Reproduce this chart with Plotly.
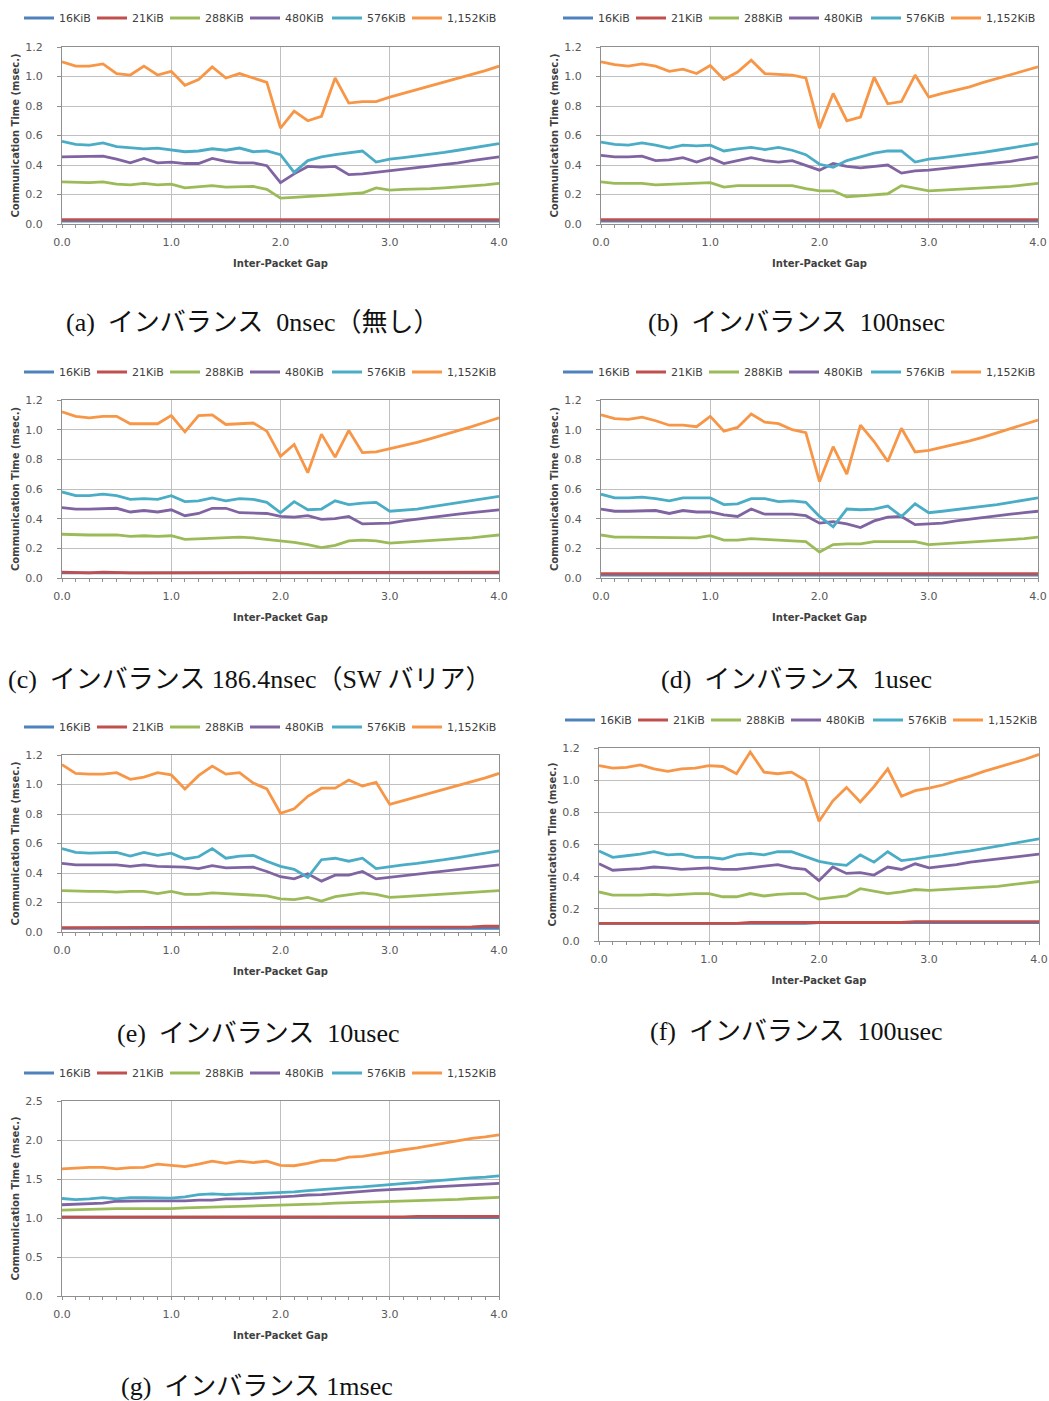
import plotly.graph_objects as go

# ---------------- data ----------------
IPG = [0.0, 0.125, 0.25, 0.375, 0.5, 0.625, 0.75, 0.875, 1.0, 1.125, 1.25, 1.375, 1.5, 1.625, 1.75, 1.875,
       2.0, 2.125, 2.25, 2.375, 2.5, 2.625, 2.75, 2.875, 3.0, 3.125, 3.25, 3.375, 3.5, 3.625, 3.75, 3.875, 4.0]

SERIES = ["16KiB", "21KiB", "288KiB", "480KiB", "576KiB", "1,152KiB"]
COLORS = ["#4F81BD", "#C0504D", "#9BBB59", "#8064A2", "#4BACC6", "#F79646"]

# (a) 0nsec
A16 = [0.020,0.020,0.020,0.020,0.020,0.020,0.020,0.020,0.020,0.020,0.020,0.020,0.020,0.020,0.020,0.020,0.020,0.020,0.020,0.020,0.020,0.020,0.020,0.020,0.020,0.020,0.020,0.020,0.020,0.020,0.020,0.020,0.020]
A21 = [0.030,0.030,0.030,0.030,0.025,0.030,0.025,0.025,0.025,0.025,0.025,0.025,0.025,0.025,0.025,0.025,0.025,0.025,0.025,0.025,0.025,0.030,0.030,0.030,0.030,0.030,0.030,0.030,0.030,0.030,0.030,0.030,0.030]
A288 = [0.285,0.280,0.280,0.285,0.270,0.265,0.275,0.265,0.270,0.245,0.250,0.260,0.250,0.250,0.255,0.235,0.175,0.180,0.185,0.190,0.195,0.200,0.210,0.245,0.230,0.235,0.235,0.240,0.245,0.250,0.255,0.265,0.275]
A480 = [0.455,0.455,0.455,0.460,0.440,0.415,0.445,0.415,0.420,0.410,0.410,0.445,0.425,0.415,0.415,0.395,0.280,0.340,0.390,0.385,0.390,0.335,0.340,0.350,0.365,0.375,0.385,0.395,0.405,0.415,0.430,0.440,0.455]
A576 = [0.560,0.540,0.535,0.550,0.525,0.515,0.510,0.515,0.500,0.490,0.495,0.510,0.500,0.515,0.490,0.495,0.470,0.350,0.430,0.455,0.470,0.480,0.495,0.420,0.440,0.450,0.460,0.470,0.485,0.500,0.515,0.530,0.545]
A1152 = [1.100,1.070,1.070,1.085,1.020,1.010,1.070,1.010,1.035,0.940,0.980,1.065,0.990,1.020,0.990,0.960,0.650,0.765,0.700,0.730,0.990,0.820,0.830,0.830,0.860,0.885,0.910,0.935,0.960,0.985,1.010,1.040,1.070]

# (b) 100nsec
B16 = [0.020,0.020,0.020,0.020,0.020,0.020,0.020,0.020,0.020,0.020,0.020,0.020,0.020,0.020,0.020,0.020,0.020,0.020,0.020,0.020,0.020,0.020,0.020,0.020,0.020,0.020,0.020,0.020,0.020,0.020,0.020,0.020,0.020]
B21 = [0.030,0.030,0.030,0.030,0.030,0.030,0.025,0.025,0.030,0.025,0.025,0.030,0.025,0.025,0.025,0.025,0.025,0.025,0.025,0.030,0.025,0.030,0.030,0.030,0.030,0.030,0.030,0.030,0.030,0.030,0.030,0.030,0.030]
B288 = [0.285,0.275,0.275,0.275,0.265,0.270,0.270,0.275,0.280,0.250,0.260,0.260,0.260,0.265,0.260,0.240,0.225,0.225,0.185,0.190,0.195,0.205,0.260,0.245,0.225,0.230,0.235,0.240,0.245,0.250,0.255,0.265,0.275]
B480 = [0.465,0.455,0.455,0.460,0.430,0.435,0.450,0.420,0.450,0.410,0.430,0.450,0.430,0.420,0.430,0.400,0.365,0.410,0.390,0.380,0.390,0.400,0.345,0.360,0.365,0.375,0.385,0.395,0.405,0.415,0.425,0.440,0.455]
B576 = [0.555,0.540,0.535,0.550,0.535,0.515,0.535,0.530,0.535,0.495,0.510,0.520,0.505,0.520,0.500,0.470,0.405,0.385,0.430,0.455,0.480,0.495,0.495,0.420,0.440,0.450,0.460,0.470,0.485,0.500,0.515,0.530,0.545]
B1152 = [1.100,1.080,1.070,1.085,1.070,1.035,1.050,1.020,1.075,0.980,1.030,1.110,1.020,1.015,1.010,0.990,0.650,0.885,0.700,0.725,0.995,0.815,0.830,1.010,0.860,0.885,0.905,0.930,0.960,0.985,1.010,1.040,1.065]

# (c) 186.4nsec
C16 = [0.035,0.035,0.035,0.035,0.035,0.035,0.035,0.035,0.035,0.035,0.035,0.035,0.035,0.035,0.035,0.035,0.035,0.035,0.035,0.035,0.035,0.035,0.035,0.035,0.035,0.035,0.035,0.035,0.035,0.035,0.035,0.035,0.035]
C21 = [0.040,0.035,0.035,0.040,0.035,0.035,0.035,0.035,0.035,0.035,0.040,0.040,0.035,0.035,0.035,0.035,0.035,0.035,0.035,0.035,0.035,0.035,0.040,0.040,0.040,0.040,0.040,0.040,0.040,0.040,0.040,0.040,0.040]
C288 = [0.295,0.290,0.290,0.290,0.290,0.280,0.285,0.280,0.285,0.260,0.265,0.270,0.275,0.275,0.270,0.260,0.245,0.240,0.225,0.205,0.220,0.250,0.255,0.250,0.235,0.240,0.245,0.250,0.255,0.265,0.270,0.280,0.290]
C480 = [0.475,0.465,0.465,0.470,0.470,0.445,0.455,0.445,0.460,0.420,0.435,0.470,0.470,0.440,0.435,0.435,0.415,0.410,0.420,0.395,0.400,0.415,0.365,0.370,0.370,0.385,0.395,0.405,0.420,0.430,0.440,0.450,0.460]
C576 = [0.580,0.555,0.555,0.565,0.555,0.530,0.535,0.530,0.555,0.515,0.520,0.540,0.520,0.535,0.530,0.510,0.440,0.515,0.460,0.465,0.520,0.495,0.505,0.510,0.450,0.455,0.465,0.480,0.495,0.505,0.520,0.535,0.550]
C1152 = [1.120,1.090,1.080,1.090,1.090,1.040,1.040,1.040,1.095,0.985,1.095,1.100,1.035,1.040,1.045,0.990,0.820,0.900,0.710,0.970,0.815,0.995,0.845,0.850,0.870,0.890,0.915,0.940,0.965,0.990,1.020,1.050,1.080]

# (d) 1usec
D16 = [0.020,0.020,0.020,0.020,0.020,0.020,0.020,0.020,0.020,0.020,0.020,0.020,0.020,0.020,0.020,0.020,0.020,0.020,0.020,0.020,0.020,0.020,0.020,0.020,0.020,0.020,0.020,0.020,0.020,0.020,0.020,0.020,0.020]
D21 = [0.030,0.030,0.030,0.030,0.030,0.025,0.030,0.030,0.030,0.030,0.030,0.030,0.025,0.030,0.030,0.025,0.030,0.025,0.030,0.030,0.030,0.030,0.030,0.030,0.030,0.030,0.030,0.030,0.030,0.030,0.030,0.030,0.030]
D288 = [0.290,0.275,0.275,0.275,0.275,0.270,0.275,0.270,0.285,0.255,0.255,0.265,0.260,0.255,0.255,0.245,0.175,0.225,0.230,0.230,0.245,0.245,0.245,0.245,0.225,0.230,0.235,0.240,0.245,0.255,0.260,0.265,0.275]
D480 = [0.465,0.450,0.450,0.455,0.455,0.435,0.455,0.445,0.445,0.425,0.415,0.465,0.430,0.430,0.430,0.420,0.370,0.380,0.365,0.340,0.385,0.410,0.415,0.360,0.365,0.370,0.385,0.395,0.405,0.415,0.430,0.440,0.450]
D576 = [0.565,0.540,0.540,0.545,0.535,0.520,0.540,0.540,0.540,0.495,0.500,0.535,0.535,0.515,0.520,0.510,0.415,0.345,0.465,0.460,0.465,0.485,0.415,0.500,0.440,0.450,0.460,0.470,0.480,0.495,0.510,0.525,0.540]
D1152 = [1.100,1.075,1.070,1.085,1.060,1.030,1.030,1.020,1.090,0.990,1.015,1.105,1.050,1.040,1.000,0.980,0.650,0.885,0.700,1.030,0.920,0.785,1.010,0.850,0.860,0.880,0.900,0.925,0.950,0.980,1.010,1.035,1.065]

# (e) 10usec
E16 = [0.025,0.025,0.025,0.025,0.025,0.025,0.025,0.025,0.025,0.025,0.025,0.025,0.025,0.025,0.025,0.025,0.025,0.025,0.025,0.025,0.025,0.025,0.025,0.025,0.025,0.025,0.025,0.025,0.025,0.025,0.025,0.025,0.025]
E21 = [0.030,0.030,0.030,0.030,0.030,0.030,0.030,0.030,0.030,0.030,0.030,0.030,0.030,0.030,0.030,0.030,0.035,0.035,0.035,0.035,0.035,0.035,0.035,0.035,0.035,0.035,0.035,0.035,0.035,0.035,0.035,0.040,0.040]
E288 = [0.280,0.275,0.275,0.275,0.270,0.275,0.275,0.260,0.275,0.255,0.255,0.265,0.260,0.255,0.255,0.245,0.225,0.220,0.235,0.210,0.240,0.250,0.265,0.255,0.235,0.240,0.245,0.250,0.255,0.260,0.265,0.275,0.280]
E480 = [0.465,0.455,0.455,0.455,0.455,0.445,0.455,0.445,0.445,0.440,0.430,0.450,0.435,0.435,0.440,0.410,0.375,0.360,0.395,0.345,0.385,0.385,0.410,0.360,0.370,0.380,0.390,0.400,0.410,0.420,0.435,0.445,0.455]
E576 = [0.565,0.540,0.535,0.540,0.540,0.515,0.540,0.520,0.535,0.495,0.510,0.565,0.500,0.515,0.520,0.480,0.445,0.425,0.370,0.490,0.500,0.480,0.500,0.430,0.445,0.455,0.465,0.475,0.490,0.505,0.520,0.535,0.550]
E1152 = [1.135,1.075,1.070,1.070,1.080,1.035,1.050,1.080,1.065,0.970,1.060,1.125,1.070,1.080,1.010,0.970,0.805,0.835,0.920,0.975,0.975,1.030,0.990,1.015,0.865,0.890,0.915,0.940,0.965,0.990,1.020,1.045,1.075]

# (f) 100usec
F16 = [0.110,0.110,0.110,0.110,0.110,0.110,0.110,0.110,0.110,0.110,0.110,0.110,0.110,0.110,0.110,0.110,0.115,0.115,0.115,0.115,0.115,0.115,0.115,0.115,0.115,0.115,0.115,0.115,0.115,0.115,0.115,0.115,0.115]
F21 = [0.110,0.110,0.110,0.110,0.110,0.110,0.110,0.110,0.110,0.110,0.110,0.115,0.115,0.115,0.115,0.115,0.115,0.115,0.115,0.115,0.115,0.115,0.115,0.120,0.120,0.120,0.120,0.120,0.120,0.120,0.120,0.120,0.120]
F288 = [0.305,0.285,0.285,0.285,0.290,0.285,0.290,0.295,0.295,0.275,0.275,0.295,0.280,0.290,0.295,0.295,0.260,0.270,0.280,0.325,0.310,0.295,0.305,0.320,0.315,0.320,0.325,0.330,0.335,0.340,0.350,0.360,0.370]
F480 = [0.480,0.440,0.445,0.450,0.460,0.455,0.445,0.450,0.455,0.445,0.445,0.455,0.465,0.475,0.455,0.445,0.375,0.460,0.420,0.425,0.410,0.460,0.445,0.480,0.455,0.465,0.475,0.490,0.500,0.510,0.520,0.530,0.540]
F576 = [0.560,0.520,0.530,0.540,0.555,0.535,0.540,0.520,0.520,0.510,0.535,0.545,0.535,0.555,0.555,0.525,0.495,0.480,0.470,0.535,0.490,0.555,0.500,0.510,0.525,0.535,0.550,0.560,0.575,0.590,0.605,0.620,0.635]
F1152 = [1.090,1.075,1.080,1.095,1.070,1.055,1.070,1.075,1.090,1.085,1.040,1.175,1.050,1.040,1.050,1.000,0.745,0.870,0.955,0.865,0.960,1.070,0.900,0.935,0.950,0.970,1.000,1.025,1.055,1.080,1.105,1.130,1.160]

# (g) 1msec
G16 = [1.010,1.010,1.010,1.010,1.010,1.010,1.010,1.010,1.010,1.010,1.010,1.010,1.010,1.010,1.010,1.010,1.010,1.010,1.010,1.010,1.010,1.010,1.010,1.010,1.010,1.010,1.010,1.010,1.005,1.005,1.005,1.005,1.005]
G21 = [1.010,1.010,1.010,1.010,1.010,1.010,1.010,1.010,1.010,1.010,1.010,1.010,1.010,1.010,1.010,1.010,1.010,1.010,1.010,1.010,1.010,1.010,1.010,1.010,1.010,1.015,1.020,1.020,1.020,1.020,1.020,1.020,1.020]
G288 = [1.100,1.105,1.110,1.120,1.120,1.120,1.120,1.120,1.120,1.130,1.135,1.135,1.145,1.145,1.150,1.160,1.160,1.170,1.175,1.180,1.190,1.195,1.200,1.210,1.215,1.220,1.225,1.230,1.235,1.240,1.250,1.255,1.265]
G480 = [1.170,1.175,1.185,1.190,1.215,1.220,1.220,1.220,1.220,1.220,1.230,1.230,1.245,1.245,1.255,1.260,1.270,1.280,1.295,1.300,1.315,1.325,1.340,1.355,1.365,1.370,1.380,1.395,1.405,1.415,1.420,1.430,1.445]
G576 = [1.250,1.235,1.245,1.260,1.245,1.260,1.260,1.255,1.255,1.270,1.300,1.310,1.300,1.310,1.310,1.320,1.325,1.335,1.350,1.365,1.380,1.390,1.400,1.415,1.430,1.440,1.455,1.470,1.485,1.500,1.515,1.525,1.540]
G1152 = [1.630,1.640,1.650,1.650,1.630,1.645,1.650,1.690,1.675,1.660,1.690,1.730,1.700,1.730,1.710,1.730,1.675,1.670,1.700,1.740,1.740,1.780,1.790,1.820,1.850,1.875,1.900,1.930,1.960,1.990,2.020,2.040,2.065]

CAPTIONS = [
    "(a)  インバランス  0nsec（無し）",
    "(b)  インバランス  100nsec",
    "(c)  インバランス 186.4nsec（SW バリア）",
    "(d)  インバランス  1usec",
    "(e)  インバランス  10usec",
    "(f)  インバランス  100usec",
    "(g)  インバランス 1msec",
]
X_TITLE = "Inter-Packet Gap"
Y_TITLE = "Communication Time (msec.)"

PANEL_DATA = [
    [A16, A21, A288, A480, A576, A1152],
    [B16, B21, B288, B480, B576, B1152],
    [C16, C21, C288, C480, C576, C1152],
    [D16, D21, D288, D480, D576, D1152],
    [E16, E21, E288, E480, E576, E1152],
    [F16, F21, F288, F480, F576, F1152],
    [G16, G21, G288, G480, G576, G1152],
]
Y_MAX = [1.2, 1.2, 1.2, 1.2, 1.2, 1.2, 2.5]
Y_STEP = [0.2, 0.2, 0.2, 0.2, 0.2, 0.2, 0.5]

# ---------------- layout (pixel geometry) ----------------
W, H = 1049, 1401
PLOTS = [  # left, right, top, bottom (px)
    (62, 499, 47, 224),
    (601, 1038, 47, 224),
    (62, 499, 400, 578),
    (601, 1038, 400, 578),
    (62, 499, 755, 932),
    (599, 1039, 748, 941),
    (62, 499, 1101, 1296),
]
LEGEND_POS = [(19, 18), (558, 18), (19, 372), (558, 372), (19, 727), (560, 720), (19, 1073)]
LEGEND_ENTRY_W = [28, 28, 35, 37, 35, 56]   # px reserved for each legend label
CAPTION_POS = [(253, 322), (796, 322), (250, 679), (796, 679), (258, 1033), (796, 1031), (257, 1386)]

GRID = "#C0C0C0"
AXIS = "#8F8F8F"
TXT = "#404040"
FONT = "DejaVu Sans, Verdana, sans-serif"

fig = go.Figure()
layout = dict(
    width=W, height=H, margin=dict(l=0, r=0, t=0, b=0, autoexpand=False),
    paper_bgcolor="white", plot_bgcolor="white",
    font=dict(family=FONT, size=11, color=TXT),
    annotations=[],
)

for i, (vals, ymax, ystep, (l, r, t, b)) in enumerate(zip(PANEL_DATA, Y_MAX, Y_STEP, PLOTS)):
    n = "" if i == 0 else str(i + 1)
    leg = "legend" if i == 0 else f"legend{i + 1}"
    for name, color, ys, lw in zip(SERIES, COLORS, vals, LEGEND_ENTRY_W):
        fig.add_trace(go.Scatter(
            x=IPG, y=ys, name=name, mode="lines",
            line=dict(color=color, width=2.8),
            xaxis="x" + n, yaxis="y" + n, legend=leg, legendwidth=lw,
        ))
    layout["xaxis" + n] = dict(
        domain=[l / W, r / W], anchor="y" + n, range=[0, 4], automargin=False,
        tick0=0, dtick=1, tickformat=".1f",
        showgrid=True, gridcolor=GRID, gridwidth=1, zeroline=False,
        showline=True, linecolor=AXIS, linewidth=1, mirror=True,
        ticks="outside", ticklen=3, tickcolor=AXIS,
        minor=dict(dtick=0.125, ticks="outside", ticklen=3, tickcolor=AXIS, showgrid=False),
        tickfont=dict(size=11, color="#595959"),
        ticklabelstandoff=5,
        title=dict(text="<b>" + X_TITLE + "</b>", font=dict(size=10, color=TXT, family="DejaVu Sans"), standoff=11),
    )
    # overlay axis giving the inner half of the crossing ticks
    k = str(8 + i)
    layout["xaxis" + k] = dict(
        overlaying="x" + n, anchor="y" + n, side="bottom", range=[0, 4], automargin=False,
        tick0=0, dtick=0.125, ticks="inside", ticklen=3, tickcolor=AXIS,
        showticklabels=False, showgrid=False, zeroline=False, showline=False,
    )
    layout["yaxis" + n] = dict(
        domain=[1 - b / H, 1 - t / H], anchor="x" + n, range=[0, ymax], automargin=False,
        tick0=0, dtick=ystep, tickformat=".1f",
        showgrid=True, gridcolor=GRID, gridwidth=1, zeroline=False,
        showline=True, linecolor=AXIS, linewidth=1, mirror=True,
        ticks="outside", ticklen=4, tickcolor=AXIS,
        tickfont=dict(size=11, color="#595959"),
        ticklabelstandoff=12,
        title=dict(text="<b>" + Y_TITLE + "</b>", font=dict(size=10, color=TXT, family="DejaVu Sans"), standoff=3),
    )
    lx, ly = LEGEND_POS[i]
    layout[leg] = dict(
        x=lx / W, y=1 - ly / H, xanchor="left", yanchor="middle",
        orientation="h", bgcolor="rgba(0,0,0,0)", borderwidth=0,
        font=dict(size=11, color=TXT, family=FONT),
        itemwidth=30, tracegroupgap=0,
    )
    cx, cy = CAPTION_POS[i]
    layout["annotations"].append(dict(
        text=CAPTIONS[i], x=cx / W, y=1 - cy / H, xref="paper", yref="paper",
        xanchor="center", yanchor="middle", showarrow=False,
        font=dict(family="Liberation Serif, Noto Sans CJK JP, serif", size=26, color="#111111"),
    ))

fig.update_layout(**layout)
fig.write_html(
    "out.html",
    config={"displayModeBar": False},
    post_script="document.body.style.margin='0px';document.body.style.overflow='hidden';",
)
